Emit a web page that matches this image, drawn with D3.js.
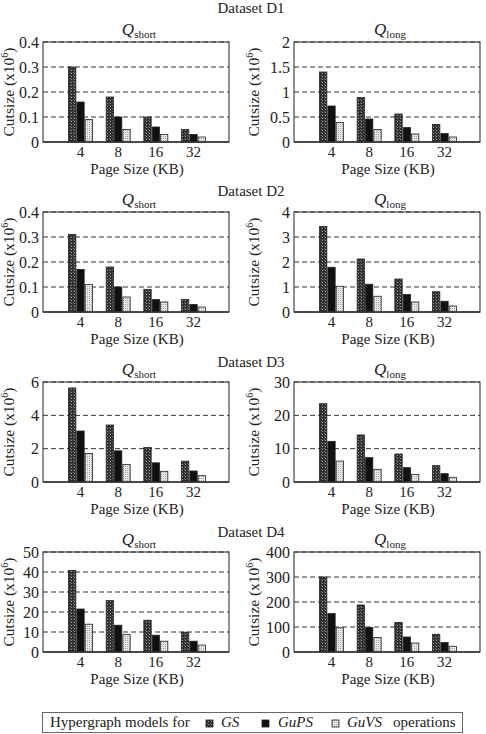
<!DOCTYPE html>
<html>
<head>
<meta charset="utf-8">
<script src="https://cdn.jsdelivr.net/npm/d3@7"></script>
<style>
html,body{margin:0;padding:0;background:#fff;}
svg{display:block;}
text{font-family:"Liberation Serif","Times New Roman",Times,serif;fill:#222;}
</style>
</head>
<body>
<svg id="chart" width="486" height="734"></svg>
<script>
// ---------------- data ----------------
const pageSizes = ["4", "8", "16", "32"];
const models = ["GS", "GuPS", "GuVS"];
const datasets = ["D1", "D2", "D3", "D4"];
const queries = ["short", "long"];

// y-axis maxima per dataset
const shortMax = [0.4, 0.4, 6, 50];
const longMax = [2, 4, 30, 400];
// tick labels per dataset
const shortTicks = [
  ["0", "0.1", "0.2", "0.3", "0.4"],
  ["0", "0.1", "0.2", "0.3", "0.4"],
  ["0", "2", "4", "6"],
  ["0", "10", "20", "30", "40", "50"]
];
const longTicks = [
  ["0", "0.5", "1", "1.5", "2"],
  ["0", "1", "2", "3", "4"],
  ["0", "10", "20", "30"],
  ["0", "100", "200", "300", "400"]
];

// values (x10^6), rows = datasets D1..D4, columns = page sizes 4,8,16,32
const GS_short = [
  [0.30, 0.18, 0.10, 0.05],
  [0.31, 0.18, 0.09, 0.05],
  [5.64, 3.42, 2.07, 1.25],
  [40.8, 25.7, 15.9, 9.9]
];
const GuPS_short = [
  [0.16, 0.10, 0.06, 0.03],
  [0.17, 0.10, 0.05, 0.03],
  [3.06, 1.87, 1.15, 0.66],
  [21.5, 13.4, 8.4, 5.4]
];
const GuVS_short = [
  [0.09, 0.05, 0.03, 0.02],
  [0.11, 0.06, 0.04, 0.02],
  [1.71, 1.05, 0.64, 0.38],
  [13.9, 8.7, 5.4, 3.5]
];
const GS_long = [
  [1.40, 0.89, 0.56, 0.35],
  [3.42, 2.12, 1.32, 0.81],
  [23.5, 14.1, 8.4, 4.9],
  [300, 188, 118, 71]
];
const GuPS_long = [
  [0.72, 0.46, 0.29, 0.17],
  [1.79, 1.11, 0.70, 0.43],
  [12.2, 7.3, 4.3, 2.5],
  [154, 98, 60, 38]
];
const GuVS_long = [
  [0.39, 0.25, 0.16, 0.10],
  [1.03, 0.63, 0.40, 0.24],
  [6.3, 3.8, 2.3, 1.4],
  [97, 58, 36, 23]
];

// ---------------- layout ----------------
const svg = d3.select("#chart");
const rowTop = [42, 212, 382, 552];
const dsTitleY = [13, 196, 367, 537];
const panelLeft = [43, 294];
const panelW = 186, panelH = 100;

// patterns
const defs = svg.append("defs");
const pGS = defs.append("pattern").attr("id", "pGS").attr("patternUnits", "userSpaceOnUse")
  .attr("width", 3).attr("height", 3);
pGS.append("rect").attr("width", 3).attr("height", 3).attr("fill", "#2e2e2e");
pGS.append("rect").attr("x", 1).attr("y", 1).attr("width", 1).attr("height", 1).attr("fill", "#a0a0a0");
pGS.append("rect").attr("x", 0).attr("y", 0).attr("width", 1).attr("height", 1).attr("fill", "#6a6a6a");
const pGuVS = defs.append("pattern").attr("id", "pGuVS").attr("patternUnits", "userSpaceOnUse")
  .attr("width", 2).attr("height", 2);
pGuVS.append("rect").attr("width", 2).attr("height", 2).attr("fill", "#e6e6e6");
pGuVS.append("rect").attr("x", 0).attr("y", 0).attr("width", 1).attr("height", 1).attr("fill", "#a8a8a8");
const fills = { GS: "url(#pGS)", GuPS: "#111", GuVS: "url(#pGuVS)" };

const shortVals = { GS: GS_short, GuPS: GuPS_short, GuVS: GuVS_short };
const longVals = { GS: GS_long, GuPS: GuPS_long, GuVS: GuVS_long };

const x0 = d3.scalePoint().domain(pageSizes).range([37.5, 150.5]);
const x1 = d3.scaleBand().domain(models).range([-12, 12]).paddingInner(0.12);

datasets.forEach((ds, di) => {
  svg.append("text").attr("x", 251).attr("y", dsTitleY[di])
    .attr("text-anchor", "middle").attr("font-size", 15).text("Dataset " + ds);

  queries.forEach((q, qi) => {
    const left = panelLeft[qi], top = rowTop[di];
    const g = svg.append("g").attr("transform", `translate(${left},${top})`);
    const ymax = qi === 0 ? shortMax[di] : longMax[di];
    const ticks = (qi === 0 ? shortTicks[di] : longTicks[di]).map(Number);
    const tickText = qi === 0 ? shortTicks[di] : longTicks[di];
    const vals = qi === 0 ? shortVals : longVals;
    const y = d3.scaleLinear().domain([0, ymax]).range([panelH, 0]);

    // frame
    g.append("rect").attr("x", 0).attr("y", 0).attr("width", panelW).attr("height", panelH)
      .attr("fill", "none").attr("stroke", "#555").attr("stroke-width", 1.3);

    // gridlines
    g.selectAll("line.grid").data(ticks.filter(t => t > 0)).enter().append("line")
      .attr("x1", 0).attr("x2", panelW)
      .attr("y1", d => y(d)).attr("y2", d => y(d))
      .attr("stroke", "#333").attr("stroke-width", 1).attr("stroke-dasharray", "5,3");

    // y tick labels
    g.selectAll("text.yt").data(ticks).enter().append("text")
      .attr("x", -4).attr("y", d => y(d)).attr("dy", "0.35em")
      .attr("text-anchor", "end").attr("font-size", 16)
      .text((d, i) => tickText[i]);

    // bars
    pageSizes.forEach((ps, pi) => {
      models.forEach(m => {
        const v = vals[m][di][pi];
        g.append("rect")
          .attr("x", x0(ps) + x1(m))
          .attr("y", y(v))
          .attr("width", x1.bandwidth())
          .attr("height", y(0) - y(v))
          .attr("fill", fills[m])
          .attr("stroke", "#222").attr("stroke-width", 0.8);
      });
      g.append("text").attr("x", x0(ps)).attr("y", panelH + 15)
        .attr("text-anchor", "middle").attr("font-size", 15).text(ps);
    });

    // bottom axis line
    g.append("line").attr("x1", 0).attr("x2", panelW).attr("y1", panelH).attr("y2", panelH)
      .attr("stroke", "#333").attr("stroke-width", 1.3);

    // x label
    g.append("text").attr("x", panelW / 2 + 1).attr("y", panelH + 32)
      .attr("text-anchor", "middle").attr("font-size", 15).text("Page Size (KB)");

    // y label
    const yl = g.append("text")
      .attr("transform", `translate(${qi === 0 ? -29 : -35},${panelH / 2}) rotate(-90)`)
      .attr("text-anchor", "middle").attr("font-size", 15.5);
    yl.append("tspan").text("Cutsize (x10");
    yl.append("tspan").attr("font-size", 10).attr("dy", -6).text("6");
    yl.append("tspan").attr("dy", 6).text(")");

    // panel title
    const t = g.append("text").attr("x", panelW / 2 + 3).attr("y", -7)
      .attr("text-anchor", "middle");
    t.append("tspan").attr("font-style", "italic").attr("font-size", 17).text("Q");
    t.append("tspan").attr("font-size", 11).attr("dy", 3).text(q);
  });
});

// ---------------- legend ----------------
const lg = svg.append("g");
lg.append("rect").attr("x", 42.5).attr("y", 712.5).attr("width", 420).attr("height", 20)
  .attr("fill", "#fff").attr("stroke", "#666").attr("stroke-width", 1);
lg.append("text").attr("x", 50).attr("y", 727).attr("font-size", 15).text("Hypergraph models for");
const legX = { GS: [206, 221], GuPS: [262, 278], GuVS: [332, 347] };
models.forEach(m => {
  lg.append("rect").attr("x", legX[m][0]).attr("y", 720).attr("width", 7).attr("height", 7)
    .attr("fill", fills[m]).attr("stroke", "#222").attr("stroke-width", 0.8);
  lg.append("text").attr("x", legX[m][1]).attr("y", 727).attr("font-size", 15)
    .attr("font-style", "italic").text(m);
});
lg.append("text").attr("x", 393).attr("y", 727).attr("font-size", 15).text("operations");
</script>
</body>
</html>
